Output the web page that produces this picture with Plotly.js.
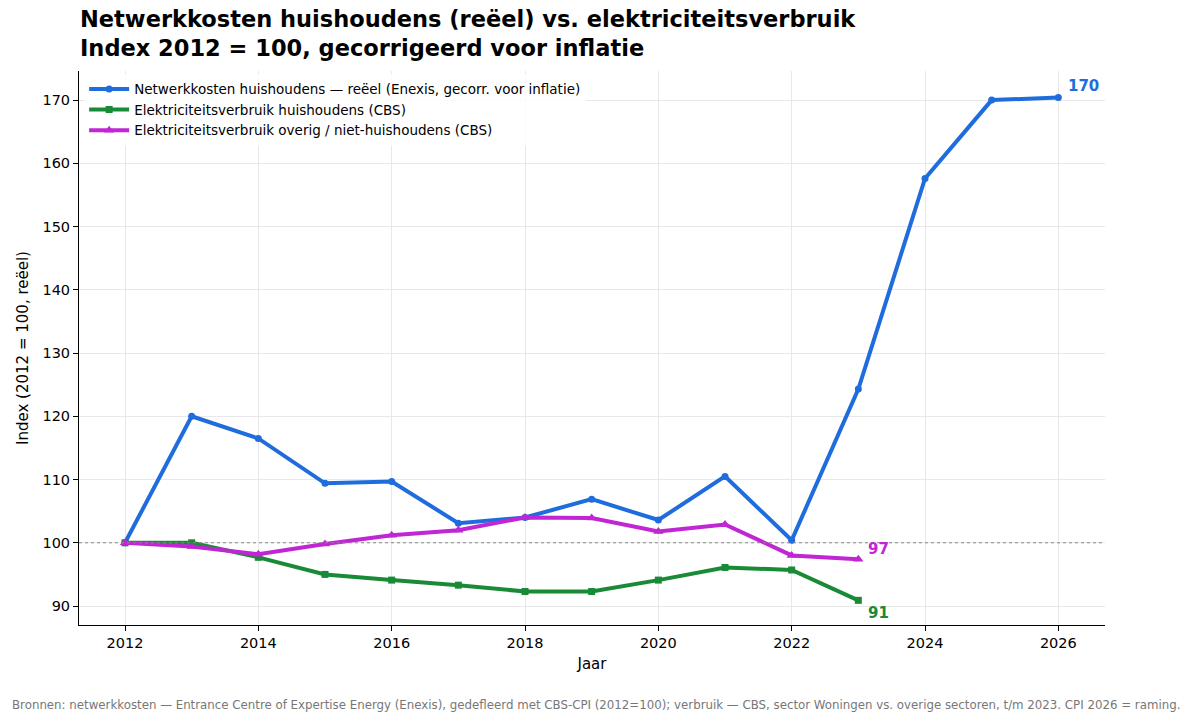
<!DOCTYPE html>
<html>
<head>
<meta charset="utf-8">
<script src="https://cdn.plot.ly/plotly-3.0.1.min.js"></script>
<style>
  body { margin: 0; background: #fff; }
  #chart { width: 1200px; height: 726px; }
</style>
</head>
<body>
<div id="chart"></div>
<script>
// ---- data ----
const yearsCost = [2012, 2013, 2014, 2015, 2016, 2017, 2018, 2019, 2020, 2021, 2022, 2023, 2024, 2025, 2026];
const netCost = [100, 120.0, 116.5, 109.4, 109.7, 103.1, 104.0, 106.9, 103.6, 110.5, 100.4, 124.3, 157.6, 170.0, 170.4];

const yearsUse = [2012, 2013, 2014, 2015, 2016, 2017, 2018, 2019, 2020, 2021, 2022, 2023];
const useHouseholds = [100, 100.0, 97.7, 95.0, 94.1, 93.3, 92.3, 92.3, 94.1, 96.1, 95.7, 90.9];
const useOther = [100, 99.4, 98.2, 99.8, 101.2, 102.0, 104.0, 103.9, 101.8, 102.9, 98.0, 97.4];

const names = [
  "Netwerkkosten huishoudens — reëel (Enexis, gecorr. voor inflatie)",
  "Elektriciteitsverbruik huishoudens (CBS)",
  "Elektriciteitsverbruik overig / niet-huishoudens (CBS)",
];
const xTicks = [2012, 2014, 2016, 2018, 2020, 2022, 2024, 2026];
const yTicks = [90, 100, 110, 120, 130, 140, 150, 160, 170];

const BLUE = "#1f6ddd";
const GREEN = "#198a35";
const MAGENTA = "#c026d3";
const FONT = "DejaVu Sans, sans-serif";

const traces = [
  {
    x: yearsCost, y: netCost, name: names[0],
    type: "scatter", mode: "lines+markers",
    line: { color: BLUE, width: 4 },
    marker: { color: BLUE, size: 7, symbol: "circle" },
  },
  {
    x: yearsUse, y: useHouseholds, name: names[1],
    type: "scatter", mode: "lines+markers",
    line: { color: GREEN, width: 4 },
    marker: { color: GREEN, size: 7, symbol: "square" },
  },
  {
    x: yearsUse, y: useOther, name: names[2],
    type: "scatter", mode: "lines+markers",
    line: { color: MAGENTA, width: 4 },
    marker: { color: MAGENTA, size: 9, symbol: "triangle-up" },
  },
];

// end labels, taken from the last value of each series
function endLabel(xs, ys, color, yshift) {
  return {
    x: xs[xs.length - 1], y: ys[ys.length - 1], xref: "x", yref: "y",
    text: String(Math.round(ys[ys.length - 1])),
    showarrow: false, xanchor: "left", xshift: 8, yshift: yshift,
    font: { family: FONT, size: 15, color: color, weight: "bold" },
  };
}

const layout = {
  width: 1200, height: 726,
  paper_bgcolor: "#fff", plot_bgcolor: "#fff",
  margin: { l: 79, r: 95, t: 71, b: 101 },
  font: { family: FONT, size: 14, color: "#000" },
  title: {
    text: "<b>Netwerkkosten huishoudens (reëel) vs. elektriciteitsverbruik<br>Index 2012 = 100, gecorrigeerd voor inflatie</b>",
    x: 80 / 1200, xref: "container", xanchor: "left",
    y: 1 - 27 / 726, yref: "container", yanchor: "top",
    pad: { t: 0, b: 0, l: 0, r: 0 },
    font: { family: FONT, size: 22.5, color: "#000" },
  },
  showlegend: true,
  legend: {
    x: 0.005, y: 0.995, xanchor: "left", yanchor: "top",
    bgcolor: "rgba(255,255,255,0.8)", borderwidth: 0,
    font: { family: FONT, size: 13.5 },
    tracegroupgap: 0, itemwidth: 40,
  },
  xaxis: {
    range: [2011.31, 2026.7],
    tickvals: xTicks, ticks: "outside", ticklen: 5, tickcolor: "#000",
    showline: true, linecolor: "#000", linewidth: 1,
    showgrid: true, gridcolor: "#e8e8e8", zeroline: false,
    title: { text: "Jaar", font: { size: 15 }, standoff: 8 },
    tickfont: { size: 14.5 },
  },
  yaxis: {
    range: [87.0, 174.6],
    tickvals: yTicks, ticks: "outside", ticklen: 5, tickcolor: "#000",
    showline: true, linecolor: "#000", linewidth: 1,
    showgrid: true, gridcolor: "#e8e8e8", zeroline: false,
    title: { text: "Index (2012 = 100, reëel)", font: { size: 15 }, standoff: 10 },
    tickfont: { size: 14.5 },
  },
  shapes: [
    {
      type: "line", xref: "paper", x0: 0, x1: 1, yref: "y", y0: 100, y1: 100,
      line: { color: "#888", width: 1, dash: "dot" },
    },
  ],
  annotations: [
    endLabel(yearsCost, netCost, BLUE, 12),
    endLabel(yearsUse, useOther, MAGENTA, 10),
    endLabel(yearsUse, useHouseholds, GREEN, -13),
    {
      // footer, placed in pixels relative to the plot area
      x: -69 / 1026, y: -89 / 554, xref: "paper", yref: "paper",
      xanchor: "left", yanchor: "bottom",
      text: "Bronnen: netwerkkosten — Entrance Centre of Expertise Energy (Enexis), gedefleerd met CBS-CPI (2012=100); verbruik — CBS, sector Woningen vs. overige sectoren, t/m 2023. CPI 2026 = raming.",
      showarrow: false, font: { family: FONT, size: 11.8, color: "#777" },
    },
  ],
};

Plotly.newPlot("chart", traces, layout, { displayModeBar: false, staticPlot: true });
</script>
</body>
</html>
